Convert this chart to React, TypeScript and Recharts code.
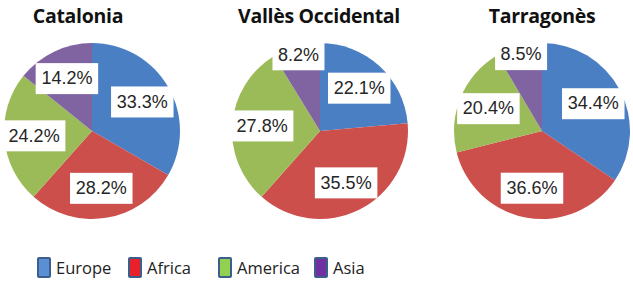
import { PieChart, Pie, Cell } from "recharts"

// Share of foreign population by origin, three areas
const regions = ["Catalonia", "Vallès Occidental", "Tarragonès"]
const categories = ["Europe", "Africa", "America", "Asia"]
const catalonia = [33.3, 28.2, 24.2, 14.2]
const valles = [22.1, 35.5, 27.8, 8.2]
const tarragones = [34.4, 36.6, 20.4, 8.5]

const sliceColors = ["#4a7fc4", "#cd4f4c", "#9bbb59", "#8064a2"]
const legendColors = ["#5b8fd4", "#e8202a", "#92d050", "#7030a0"]

const series = [catalonia, valles, tarragones]
const centers = [
  { cx: 92, cy: 131 },
  { cx: 320, cy: 131 },
  { cx: 542, cy: 131 },
]
const R = 88
const RADIAN = Math.PI / 180

const renderLabel = (props: any) => {
  const { cx, cy, midAngle, outerRadius, value, percent } = props
  const r = percent < 0.1 ? outerRadius * 0.9 : outerRadius * 0.66
  const x = cx + r * Math.cos(-midAngle * RADIAN)
  const y = cy + r * Math.sin(-midAngle * RADIAN)
  const text = `${value.toFixed(1)}%`
  const w = text.length * 10.5 + 10
  const h = 31
  return (
    <g>
      <rect x={x - w / 2} y={y - h / 2} width={w} height={h} fill="#ffffff" />
      <text
        x={x}
        y={y + 1}
        textAnchor="middle"
        dominantBaseline="middle"
        fontSize={18}
        fontFamily="'Liberation Sans', Arial, sans-serif"
        fill="#262626"
      >
        {text}
      </text>
    </g>
  )
}

export default function App() {
  return (
    <div style={{ position: "absolute", left: 0, top: 0, width: 633, height: 284, background: "#fff" }}>
      <PieChart width={633} height={284} margin={{ top: 0, right: 0, bottom: 0, left: 0 }}>
        {series.map((vals, i) => (
          <Pie
            key={regions[i]}
            data={categories.map((name, j) => ({ name, value: vals[j] }))}
            dataKey="value"
            cx={centers[i].cx}
            cy={centers[i].cy}
            outerRadius={R}
            startAngle={90}
            endAngle={-270}
            stroke="none"
            label={renderLabel}
            labelLine={false}
            isAnimationActive={false}
          >
            {categories.map((c, j) => (
              <Cell key={c} fill={sliceColors[j]} />
            ))}
          </Pie>
        ))}
      </PieChart>
      {regions.map((name, i) => (
        <div
          key={name}
          style={{
            position: "absolute",
            top: 2,
            left: [78, 319, 542][i] - 120,
            width: 240,
            textAlign: "center",
            fontFamily: "'Open Sans', Arial, sans-serif",
            fontWeight: 700,
            fontSize: 19.5,
            color: "#111",
            letterSpacing: -0.3,
          }}
        >
          {name}
        </div>
      ))}
      {categories.map((name, i) => (
        <div
          key={name}
          style={{
            position: "absolute",
            top: 256,
            left: [37, 128, 218, 314][i],
            display: "flex",
            alignItems: "center",
            fontFamily: "'Open Sans', Arial, sans-serif",
            fontSize: 16.5,
            color: "#222",
          }}
        >
          <span
            style={{
              display: "inline-block",
              width: 10,
              height: 17,
              background: legendColors[i],
              border: "2px solid #3b5e8c",
              borderRadius: 2,
              marginRight: 5,
            }}
          />
          {name}
        </div>
      ))}
    </div>
  )
}
